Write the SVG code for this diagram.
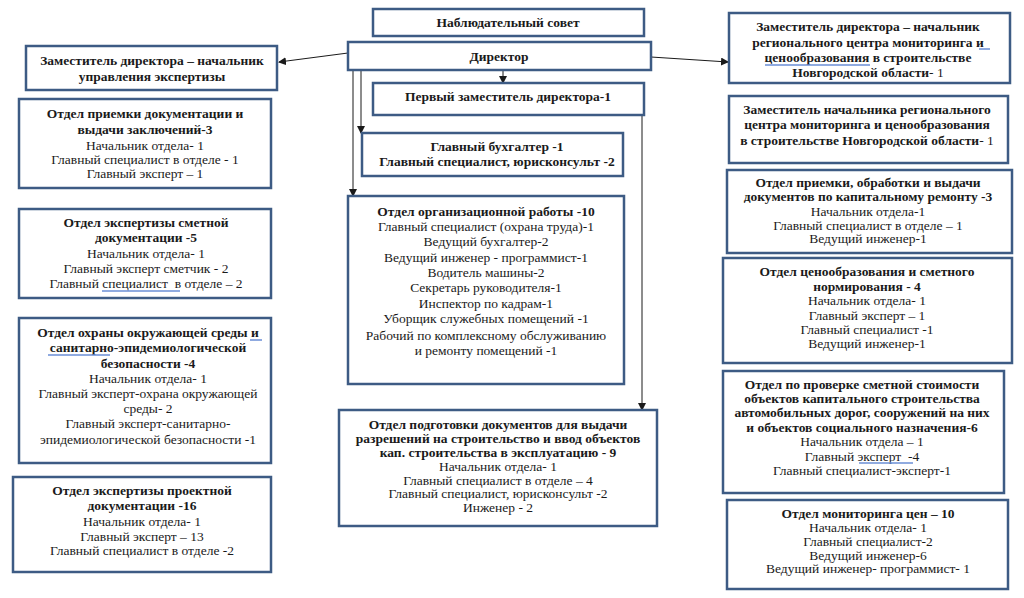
<svg xmlns="http://www.w3.org/2000/svg" width="1024" height="598" viewBox="0 0 1024 598">
<defs>
<style>
.box{fill:#fff;stroke:#3d5b84;stroke-width:2.5}
text{font-family:"Liberation Serif","Times New Roman",serif;font-size:13.5px;fill:#1a1a1a;text-anchor:middle}
.b{font-weight:bold}
.con{stroke:#1a1a1a;stroke-width:1;fill:none}
.sq{stroke:#6b8fd6;stroke-width:1.5;fill:none}
</style>
<marker id="ah" markerWidth="8" markerHeight="8" refX="7" refY="4" orient="auto" markerUnits="userSpaceOnUse">
<path d="M0,0 L8,4 L0,8 z" fill="#1a1a1a"/>
</marker>
</defs>
<rect width="1024" height="598" fill="#fff"/>

<g id="connectors">
<line class="con" x1="348" y1="53" x2="279" y2="62" marker-end="url(#ah)"/>
<line class="con" x1="651" y1="57" x2="728" y2="62" marker-end="url(#ah)"/>
<line class="con" x1="503" y1="70" x2="503" y2="83" marker-end="url(#ah)"/>
<line class="con" x1="361" y1="70" x2="361" y2="133" marker-end="url(#ah)"/>
<line class="con" x1="353" y1="70" x2="353" y2="196" marker-end="url(#ah)"/>
<line class="con" x1="642" y1="115" x2="642" y2="410" marker-end="url(#ah)"/>
</g>

<g id="nabl">
<rect class="box" x="373" y="9" width="271" height="27"/>
<text class="b" x="508" y="27">Наблюдательный совет</text>
</g>
<g id="director">
<rect class="box" x="348" y="42" width="303" height="28"/>
<text class="b" x="499" y="61">Директор</text>
</g>
<g id="first-deputy">
<rect class="box" x="373" y="83" width="271" height="32"/>
<text class="b" x="508" y="101">Первый заместитель директора-1</text>
</g>
<g id="accountant">
<rect class="box" x="362" y="133" width="261" height="43"/>
<text class="b" x="497" y="151">Главный бухгалтер -1</text>
<text class="b" x="497" y="166">Главный специалист, юрисконсульт -2</text>
</g>
<g id="org-dept">
<rect class="box" x="348" y="196" width="276" height="188"/>
<text class="b" x="486" y="216">Отдел организационной работы -10</text>
<text x="486" y="231">Главный специалист (охрана труда)-1</text>
<text x="486" y="246">Ведущий бухгалтер-2</text>
<text x="486" y="262">Ведущий инженер - программист-1</text>
<text x="486" y="277">Водитель машины-2</text>
<text x="486" y="292">Секретарь руководителя-1</text>
<text x="486" y="308">Инспектор по кадрам-1</text>
<text x="486" y="323">Уборщик служебных помещений -1</text>
<text x="486" y="340">Рабочий по комплексному обслуживанию</text>
<text x="486" y="355">и ремонту помещений -1</text>
</g>
<g id="permits-dept">
<rect class="box" x="339" y="410" width="318" height="116"/>
<text class="b" x="498" y="429">Отдел подготовки документов для выдачи</text>
<text class="b" x="498" y="443">разрешений на строительство и ввод объектов</text>
<text class="b" x="498" y="457">кап. строительства в эксплуатацию - 9</text>
<text x="498" y="471">Начальник отдела- 1</text>
<text x="498" y="485">Главный специалист в отделе – 4</text>
<text x="498" y="498">Главный специалист, юрисконсульт -2</text>
<text x="498" y="512">Инженер - 2</text>
</g>

<g id="deputy-expertise">
<rect class="box" x="26" y="46" width="251" height="44"/>
<text class="b" x="152" y="65">Заместитель директора – начальник</text>
<text class="b" x="152" y="81">управления экспертизы</text>
</g>
<g id="dept-docs">
<rect class="box" x="19" y="99" width="252" height="89"/>
<text class="b" x="145" y="118">Отдел приемки документации и</text>
<text class="b" x="145" y="134">выдачи заключений-3</text>
<text x="145" y="150">Начальник отдела- 1</text>
<text x="145" y="164">Главный специалист в отделе - 1</text>
<text x="145" y="178">Главный эксперт – 1</text>
</g>
<g id="dept-estimate">
<rect class="box" x="19" y="209" width="252" height="89"/>
<text class="b" x="146" y="227">Отдел экспертизы сметной</text>
<text class="b" x="146" y="242">документации -5</text>
<text x="146" y="258">Начальник отдела- 1</text>
<text x="146" y="273">Главный эксперт сметчик - 2</text>
<text x="146" y="288" xml:space="preserve">Главный специалист  в отделе – 2</text>
<path class="sq" d="M102,291 L180,291"/>
</g>
<g id="dept-env">
<rect class="box" x="19" y="318" width="252" height="145"/>
<text class="b" x="148" y="337">Отдел охраны окружающей среды и</text>
<text class="b" x="148" y="352">санитарно-эпидемиологической</text>
<text class="b" x="148" y="368">безопасности -4</text>
<text x="148" y="383">Начальник отдела- 1</text>
<text x="148" y="398">Главный эксперт-охрана окружающей</text>
<text x="148" y="413">среды- 2</text>
<text x="148" y="428">Главный эксперт-санитарно-</text>
<text x="148" y="444">эпидемиологической безопасности -1</text>
<path class="sq" d="M250,340 L262,340 M48,355 L110,355"/>
</g>
<g id="dept-project">
<rect class="box" x="13" y="477" width="258" height="95"/>
<text class="b" x="142" y="495">Отдел экспертизы проектной</text>
<text class="b" x="142" y="510">документации -16</text>
<text x="142" y="526">Начальник отдела- 1</text>
<text x="142" y="541">Главный эксперт – 13</text>
<text x="142" y="555">Главный специалист в отделе -2</text>
</g>

<g id="deputy-monitoring">
<rect class="box" x="729" y="13" width="281" height="70"/>
<text class="b" x="868" y="31">Заместитель директора – начальник</text>
<text class="b" x="868" y="47">регионального центра мониторинга и</text>
<text class="b" x="868" y="62">ценообразования в строительстве</text>
<text class="b" x="868" y="77">Новгородской области<tspan font-weight="normal">- 1</tspan></text>
<path class="sq" d="M979,49 L990,49 M765,65 L870,65"/>
</g>
<g id="deputy-head">
<rect class="box" x="729" y="96" width="279" height="67"/>
<text class="b" x="867" y="114">Заместитель начальника регионального</text>
<text class="b" x="867" y="129">центра мониторинга и ценообразования</text>
<text class="b" x="867" y="145">в строительстве Новгородской области<tspan font-weight="normal">- 1</tspan></text>
</g>
<g id="dept-capital">
<rect class="box" x="727" y="170" width="285" height="83"/>
<text class="b" x="868" y="187">Отдел приемки, обработки и выдачи</text>
<text class="b" x="868" y="201">документов по капитальному ремонту -3</text>
<text x="868" y="216">Начальник отдела-1</text>
<text x="868" y="230">Главный специалист в отделе – 1</text>
<text x="868" y="243">Ведущий инженер-1</text>
</g>
<g id="dept-pricing">
<rect class="box" x="723" y="258" width="289" height="105"/>
<text class="b" x="867" y="276">Отдел ценообразования и сметного</text>
<text class="b" x="867" y="291">нормирования - 4</text>
<text x="867" y="305">Начальник отдела- 1</text>
<text x="867" y="320">Главный эксперт – 1</text>
<text x="867" y="334">Главный специалист -1</text>
<text x="867" y="348">Ведущий инженер-1</text>
</g>
<g id="dept-check">
<rect class="box" x="723" y="371" width="281" height="122"/>
<text class="b" x="862" y="389">Отдел по проверке сметной стоимости</text>
<text class="b" x="862" y="403">объектов капитального строительства</text>
<text class="b" x="862" y="417">автомобильных дорог, сооружений на них</text>
<text class="b" x="862" y="432">и объектов социального назначения-6</text>
<text x="862" y="446">Начальник отдела – 1</text>
<text x="862" y="461" xml:space="preserve">Главный эксперт  -4</text>
<text x="862" y="475">Главный специалист-эксперт-1</text>
<path class="sq" d="M859,463 L913,463"/>
</g>
<g id="dept-prices">
<rect class="box" x="727" y="500" width="281" height="89"/>
<text class="b" x="868" y="518">Отдел мониторинга цен – 10</text>
<text x="868" y="532">Начальник отдела- 1</text>
<text x="868" y="546">Главный специалист-2</text>
<text x="868" y="560">Ведущий инженер-6</text>
<text x="868" y="573">Ведущий инженер- программист- 1</text>
</g>
</svg>
